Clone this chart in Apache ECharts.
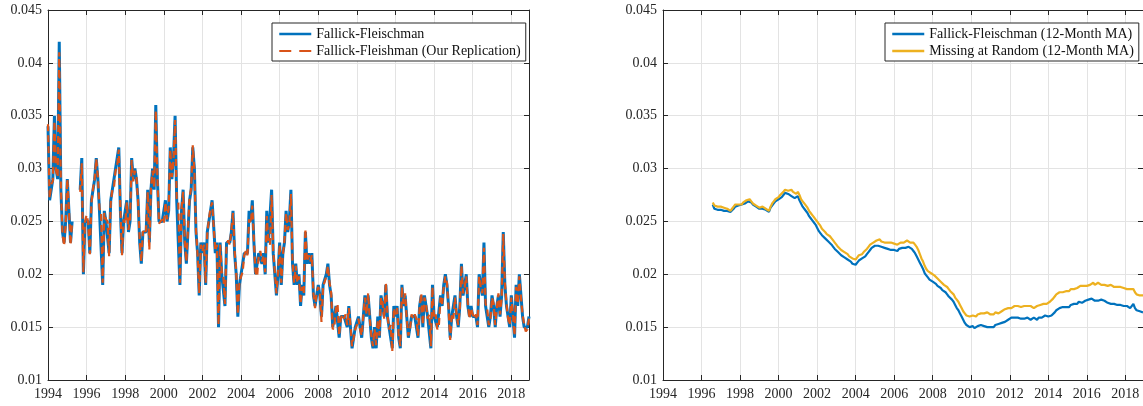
<!DOCTYPE html>
<html>
<head>
<meta charset="utf-8">
<script src="https://cdn.jsdelivr.net/npm/echarts@6/dist/echarts.min.js"></script>
<style>
  html, body { margin: 0; padding: 0; background: #fff; }
  #chart { width: 1143px; height: 406px; }
</style>
</head>
<body>
<div id="chart"></div>
<script>
// Monthly job-finding style rates, January 1994 .. December 2018 (one row per year).
const monthlyStart = 1994;
const ffMonthly = [
  0.034, 0.027, 0.028, 0.029, 0.035, 0.030, 0.029, 0.042, 0.028, 0.024, 0.023, 0.025,
  0.029, 0.026, 0.023, 0.025, null, null, null, null, 0.028, 0.031, 0.020, 0.025,
  0.025, 0.025, 0.022, 0.027, 0.028, 0.029, 0.031, 0.029, 0.026, 0.026, 0.019, 0.026,
  0.025, 0.025, 0.022, 0.027, 0.028, 0.028, 0.030, 0.030, 0.032, 0.026, 0.022, 0.025,
  0.025, 0.027, 0.024, 0.025, 0.031, 0.029, 0.030, 0.029, 0.027, 0.023, 0.021, 0.024,
  0.024, 0.024, 0.028, 0.023, 0.028, 0.030, 0.028, 0.036, 0.029, 0.025, 0.025, 0.025,
  0.025, 0.027, 0.025, 0.026, 0.032, 0.029, 0.031, 0.035, 0.027, 0.027, 0.019, 0.026,
  0.028, 0.023, 0.021, 0.024, 0.027, 0.028, 0.032, 0.030, 0.024, 0.022, 0.018, 0.023,
  0.022, 0.023, 0.019, 0.024, 0.025, 0.026, 0.027, 0.027, 0.022, 0.023, 0.015, 0.023,
  0.020, 0.020, 0.017, 0.023, 0.023, 0.023, 0.024, 0.026, 0.022, 0.020, 0.016, 0.019,
  0.020, 0.020, 0.022, 0.022, 0.022, 0.026, 0.025, 0.027, 0.023, 0.020, 0.020, 0.022,
  0.022, 0.021, 0.022, 0.020, 0.026, 0.023, 0.023, 0.028, 0.022, 0.020, 0.018, 0.020,
  0.023, 0.019, 0.022, 0.023, 0.026, 0.024, 0.025, 0.028, 0.021, 0.019, 0.021, 0.019,
  0.020, 0.017, 0.019, 0.018, 0.024, 0.021, 0.022, 0.021, 0.022, 0.018, 0.017, 0.018,
  0.019, 0.018, 0.016, 0.019, 0.019, 0.020, 0.021, 0.019, 0.018, 0.015, 0.015, 0.017,
  0.017, 0.014, 0.016, 0.016, 0.016, 0.016, 0.015, 0.017, 0.015, 0.013, 0.013, 0.015,
  0.015, 0.016, 0.015, 0.014, 0.014, 0.018, 0.016, 0.018, 0.016, 0.014, 0.013, 0.015,
  0.013, 0.016, 0.014, 0.018, 0.017, 0.016, 0.019, 0.016, 0.015, 0.015, 0.013, 0.017,
  0.016, 0.017, 0.014, 0.013, 0.019, 0.017, 0.018, 0.016, 0.014, 0.015, 0.016, 0.016,
  0.016, 0.016, 0.014, 0.017, 0.018, 0.015, 0.018, 0.017, 0.016, 0.016, 0.013, 0.019,
  0.016, 0.016, 0.015, 0.015, 0.018, 0.017, 0.019, 0.020, 0.019, 0.017, 0.014, 0.016,
  0.016, 0.018, 0.016, 0.015, 0.017, 0.021, 0.018, 0.019, 0.020, 0.017, 0.016, 0.017,
  0.016, 0.016, 0.016, 0.015, 0.020, 0.019, 0.018, 0.023, 0.017, 0.017, 0.015, 0.016,
  0.018, 0.017, 0.015, 0.017, 0.018, 0.016, 0.018, 0.024, 0.019, 0.017, 0.016, 0.015,
  0.018, 0.016, 0.014, 0.019, 0.017, 0.020, 0.018, 0.016, 0.015, 0.015, 0.015, 0.016
];

const ffReplication = [
  0.0342, 0.0272, 0.0285, 0.0288, 0.0345, 0.0298, 0.0292, 0.0410, 0.0283, 0.0238, 0.0227, 0.0248,
  0.0290, 0.0262, 0.0228, 0.0250, null, null, null, null, 0.0278, 0.0305, 0.0202, 0.0250,
  0.0256, 0.0249, 0.0219, 0.0268, 0.0281, 0.0290, 0.0309, 0.0292, 0.0262, 0.0258, 0.0192, 0.0258,
  0.0252, 0.0250, 0.0217, 0.0268, 0.0280, 0.0282, 0.0298, 0.0302, 0.0318, 0.0262, 0.0218, 0.0252,
  0.0248, 0.0268, 0.0242, 0.0252, 0.0308, 0.0288, 0.0298, 0.0292, 0.0268, 0.0232, 0.0212, 0.0241,
  0.0238, 0.0242, 0.0278, 0.0223, 0.0282, 0.0298, 0.0282, 0.0355, 0.0292, 0.0248, 0.0248, 0.0252,
  0.0248, 0.0268, 0.0252, 0.0262, 0.0318, 0.0292, 0.0308, 0.0346, 0.0272, 0.0268, 0.0192, 0.0262,
  0.0278, 0.0232, 0.0212, 0.0242, 0.0272, 0.0282, 0.0322, 0.0298, 0.0242, 0.0218, 0.0182, 0.0228,
  0.0222, 0.0228, 0.0192, 0.0238, 0.0252, 0.0262, 0.0268, 0.0268, 0.0222, 0.0228, 0.0152, 0.0228,
  0.0202, 0.0198, 0.0172, 0.0228, 0.0232, 0.0228, 0.0242, 0.0258, 0.0222, 0.0202, 0.0162, 0.0192,
  0.0198, 0.0202, 0.0218, 0.0222, 0.0218, 0.0252, 0.0248, 0.0265, 0.0232, 0.0202, 0.0198, 0.0218,
  0.0222, 0.0212, 0.0218, 0.0202, 0.0255, 0.0232, 0.0228, 0.0275, 0.0222, 0.0202, 0.0182, 0.0202,
  0.0228, 0.0192, 0.0218, 0.0232, 0.0258, 0.0242, 0.0248, 0.0276, 0.0212, 0.0192, 0.0208, 0.0192,
  0.0198, 0.0172, 0.0188, 0.0182, 0.0243, 0.0212, 0.0218, 0.0212, 0.0218, 0.0182, 0.0168, 0.0183,
  0.0188, 0.0182, 0.0155, 0.0188, 0.0193, 0.0198, 0.0208, 0.0192, 0.0183, 0.0148, 0.0150, 0.0168,
  0.0172, 0.0142, 0.0158, 0.0162, 0.0158, 0.0162, 0.0152, 0.0168, 0.0152, 0.0132, 0.0132, 0.0148,
  0.0152, 0.0158, 0.0148, 0.0142, 0.0142, 0.0178, 0.0162, 0.0182, 0.0158, 0.0142, 0.0132, 0.0148,
  0.0133, 0.0157, 0.0142, 0.0178, 0.0172, 0.0158, 0.0192, 0.0162, 0.0148, 0.0152, 0.0127, 0.0168,
  0.0162, 0.0168, 0.0142, 0.0132, 0.0188, 0.0172, 0.0182, 0.0158, 0.0142, 0.0148, 0.0162, 0.0158,
  0.0162, 0.0158, 0.0142, 0.0168, 0.0182, 0.0152, 0.0178, 0.0172, 0.0158, 0.0162, 0.0132, 0.0188,
  0.0158, 0.0162, 0.0148, 0.0152, 0.0178, 0.0172, 0.0188, 0.0198, 0.0192, 0.0168, 0.0138, 0.0162,
  0.0158, 0.0178, 0.0162, 0.0152, 0.0168, 0.0208, 0.0182, 0.0188, 0.0198, 0.0172, 0.0158, 0.0168,
  0.0162, 0.0158, 0.0162, 0.0152, 0.0198, 0.0188, 0.0182, 0.0225, 0.0172, 0.0168, 0.0152, 0.0158,
  0.0178, 0.0172, 0.0152, 0.0168, 0.0182, 0.0162, 0.0178, 0.0238, 0.0192, 0.0172, 0.0158, 0.0152,
  0.0178, 0.0162, 0.0142, 0.0188, 0.0172, 0.0198, 0.0178, 0.0162, 0.0152, 0.0146, 0.0148, 0.0158
];

// 12-month moving averages, August 1996 .. December 2018.
const maStart = 1996 + 7 / 12;
const ffMA12 = [
  0.0266, 0.0262, 0.0261, 0.0261, 0.0261,
  0.0261, 0.0260, 0.0260, 0.0261, 0.0260, 0.0259, 0.0259, 0.0260, 0.0262, 0.0264, 0.0265, 0.0265,
  0.0266, 0.0266, 0.0267, 0.0267, 0.0268, 0.0269, 0.0270, 0.0268, 0.0266, 0.0265, 0.0264, 0.0263,
  0.0262, 0.0263, 0.0262, 0.0262, 0.0261, 0.0260, 0.0259, 0.0263, 0.0265, 0.0267, 0.0269, 0.0270,
  0.0271, 0.0272, 0.0273, 0.0275, 0.0277, 0.0276, 0.0276, 0.0275, 0.0274, 0.0273, 0.0272, 0.0271,
  0.0274, 0.0270, 0.0267, 0.0264, 0.0262, 0.0261, 0.0258, 0.0255, 0.0253, 0.0251, 0.0249, 0.0247,
  0.0244, 0.0241, 0.0239, 0.0237, 0.0236, 0.0234, 0.0233, 0.0231, 0.0230, 0.0228, 0.0226, 0.0224,
  0.0223, 0.0221, 0.0220, 0.0218, 0.0217, 0.0216, 0.0215, 0.0214, 0.0213, 0.0212, 0.0210, 0.0210,
  0.0209, 0.0211, 0.0213, 0.0214, 0.0215, 0.0216, 0.0217, 0.0219, 0.0221, 0.0223, 0.0225, 0.0226,
  0.0227, 0.0228, 0.0227, 0.0227, 0.0226, 0.0226, 0.0225, 0.0225, 0.0224, 0.0224, 0.0223, 0.0224,
  0.0223, 0.0224, 0.0222, 0.0224, 0.0225, 0.0225, 0.0224, 0.0225, 0.0225, 0.0226, 0.0225, 0.0224,
  0.0222, 0.0220, 0.0217, 0.0214, 0.0211, 0.0208, 0.0205, 0.0201, 0.0199, 0.0197, 0.0195, 0.0194,
  0.0193, 0.0192, 0.0191, 0.0189, 0.0188, 0.0187, 0.0185, 0.0184, 0.0183, 0.0181, 0.0179, 0.0178,
  0.0176, 0.0174, 0.0171, 0.0168, 0.0166, 0.0163, 0.0160, 0.0157, 0.0154, 0.0152, 0.0151, 0.0150,
  0.0150, 0.0151, 0.0149, 0.0150, 0.0151, 0.0152, 0.0152, 0.0151, 0.0151, 0.0150, 0.0150, 0.0151,
  0.0150, 0.0151, 0.0150, 0.0152, 0.0152, 0.0153, 0.0153, 0.0154, 0.0155, 0.0155, 0.0156, 0.0157,
  0.0158, 0.0159, 0.0160, 0.0159, 0.0158, 0.0159, 0.0159, 0.0158, 0.0159, 0.0158, 0.0158, 0.0159,
  0.0158, 0.0157, 0.0158, 0.0159, 0.0158, 0.0157, 0.0159, 0.0160, 0.0159, 0.0160, 0.0161, 0.0160,
  0.0160, 0.0161, 0.0161, 0.0162, 0.0164, 0.0166, 0.0167, 0.0168, 0.0167, 0.0169, 0.0168, 0.0169,
  0.0170, 0.0169, 0.0171, 0.0170, 0.0172, 0.0171, 0.0172, 0.0174, 0.0173, 0.0173, 0.0174, 0.0175,
  0.0174, 0.0176, 0.0175, 0.0177, 0.0176, 0.0175, 0.0176, 0.0175, 0.0174, 0.0176, 0.0176, 0.0175,
  0.0174, 0.0173, 0.0173, 0.0172, 0.0173, 0.0172, 0.0172, 0.0171, 0.0172, 0.0171, 0.0171, 0.0170,
  0.0170, 0.0170, 0.0169, 0.0168, 0.0169, 0.0172, 0.0168, 0.0166, 0.0165, 0.0165, 0.0164, 0.0164
];

const marMA12 = [
  0.0268, 0.0265, 0.0264, 0.0264, 0.0263,
  0.0264, 0.0263, 0.0263, 0.0263, 0.0262, 0.0261, 0.0260, 0.0262, 0.0264, 0.0266, 0.0266, 0.0266,
  0.0267, 0.0266, 0.0268, 0.0269, 0.0270, 0.0271, 0.0271, 0.0269, 0.0267, 0.0266, 0.0265, 0.0264,
  0.0263, 0.0264, 0.0264, 0.0263, 0.0262, 0.0261, 0.0260, 0.0264, 0.0267, 0.0269, 0.0271, 0.0272,
  0.0273, 0.0275, 0.0276, 0.0278, 0.0280, 0.0280, 0.0279, 0.0279, 0.0280, 0.0278, 0.0277, 0.0276,
  0.0278, 0.0275, 0.0271, 0.0269, 0.0267, 0.0266, 0.0263, 0.0260, 0.0258, 0.0256, 0.0254, 0.0252,
  0.0250, 0.0248, 0.0246, 0.0243, 0.0242, 0.0240, 0.0238, 0.0237, 0.0236, 0.0234, 0.0232, 0.0230,
  0.0228, 0.0226, 0.0225, 0.0223, 0.0222, 0.0221, 0.0220, 0.0219, 0.0217, 0.0216, 0.0215, 0.0214,
  0.0214, 0.0216, 0.0218, 0.0218, 0.0219, 0.0221, 0.0222, 0.0224, 0.0226, 0.0228, 0.0229, 0.0230,
  0.0231, 0.0232, 0.0232, 0.0233, 0.0231, 0.0231, 0.0230, 0.0231, 0.0230, 0.0229, 0.0230, 0.0230,
  0.0229, 0.0230, 0.0228, 0.0229, 0.0230, 0.0229, 0.0230, 0.0231, 0.0232, 0.0231, 0.0230, 0.0231,
  0.0230, 0.0228, 0.0226, 0.0223, 0.0219, 0.0215, 0.0212, 0.0208, 0.0205, 0.0203, 0.0202, 0.0201,
  0.0200, 0.0199, 0.0198, 0.0196, 0.0195, 0.0193, 0.0192, 0.0190, 0.0189, 0.0188, 0.0186, 0.0184,
  0.0183, 0.0181, 0.0178, 0.0176, 0.0174, 0.0171, 0.0168, 0.0165, 0.0163, 0.0161, 0.0160, 0.0160,
  0.0159, 0.0161, 0.0160, 0.0160, 0.0162, 0.0163, 0.0163, 0.0164, 0.0163, 0.0162, 0.0164, 0.0163,
  0.0162, 0.0163, 0.0162, 0.0164, 0.0164, 0.0163, 0.0164, 0.0165, 0.0166, 0.0167, 0.0166, 0.0168,
  0.0169, 0.0168, 0.0169, 0.0170, 0.0169, 0.0170, 0.0170, 0.0169, 0.0170, 0.0170, 0.0169, 0.0170,
  0.0169, 0.0170, 0.0169, 0.0168, 0.0169, 0.0170, 0.0169, 0.0171, 0.0170, 0.0172, 0.0172, 0.0172,
  0.0173, 0.0174, 0.0175, 0.0177, 0.0179, 0.0181, 0.0182, 0.0183, 0.0182, 0.0183, 0.0184, 0.0184,
  0.0185, 0.0184, 0.0186, 0.0185, 0.0186, 0.0185, 0.0187, 0.0188, 0.0189, 0.0188, 0.0189, 0.0190,
  0.0189, 0.0189, 0.0190, 0.0191, 0.0192, 0.0190, 0.0191, 0.0192, 0.0191, 0.0190, 0.0191, 0.0190,
  0.0190, 0.0189, 0.0189, 0.0190, 0.0189, 0.0188, 0.0189, 0.0188, 0.0189, 0.0188, 0.0188, 0.0187,
  0.0187, 0.0186, 0.0185, 0.0186, 0.0185, 0.0186, 0.0183, 0.0181, 0.0180, 0.0180, 0.0179, 0.0180
];

const leftNames = ['Fallick-Fleischman', 'Fallick-Fleishman (Our Replication)'];
const rightNames = ['Fallick-Fleischman (12-Month MA)', 'Missing at Random (12-Month MA)'];

// Monthly series -> [decimal year, value] pairs
function toPoints(values, start) {
  return values.map((v, i) => [start + i / 12, v]);
}

const FONT = '"Liberation Serif", "Times New Roman", serif';
const AXIS = '#262626';
const GRID = '#e3e3e3';
const X_MIN = 1994, X_MAX = 2018 + 11 / 12;
const BLUE = '#0072BD', ORANGE = '#D95319', YELLOW = '#EDB120';

function xAxesFor(gridIndex) {
  const common = {
    type: 'value', gridIndex, min: X_MIN, max: X_MAX, interval: 2,
    axisLine: { show: true, onZero: false, lineStyle: { color: AXIS, width: 1 } },
    axisTick: { show: true, inside: true, length: 5, lineStyle: { color: AXIS, width: 1 } }
  };
  return [
    Object.assign({}, common, {
      position: 'bottom',
      axisLabel: {
        color: AXIS, fontFamily: FONT, fontSize: 14, margin: 7,
        showMaxLabel: false,
        formatter: v => (Math.abs(v - Math.round(v)) < 1e-6 ? String(Math.round(v)) : '')
      },
      splitLine: { show: true, lineStyle: { color: GRID, width: 1 } }
    }),
    Object.assign({}, common, {
      position: 'top',
      axisLabel: { show: false },
      splitLine: { show: false }
    })
  ];
}

function yAxesFor(gridIndex) {
  const common = {
    type: 'value', gridIndex, min: 0.01, max: 0.045, interval: 0.005,
    axisLine: { show: true, onZero: false, lineStyle: { color: AXIS, width: 1 } },
    axisTick: { show: true, inside: true, length: 5, lineStyle: { color: AXIS, width: 1 } }
  };
  return [
    Object.assign({}, common, {
      position: 'left',
      axisLabel: {
        color: AXIS, fontFamily: FONT, fontSize: 14, margin: 6,
        formatter: v => String(parseFloat(v.toFixed(3)))
      },
      splitLine: { show: true, lineStyle: { color: GRID, width: 1 } }
    }),
    Object.assign({}, common, {
      position: 'right',
      axisLabel: { show: false },
      splitLine: { show: false }
    })
  ];
}

function legendBox(left, items) {
  return {
    left, top: 23, orient: 'vertical',
    data: items,
    itemWidth: 32, itemHeight: 14, itemGap: 3,
    padding: [4, 5, 3, 6],
    borderColor: AXIS, borderWidth: 1, borderRadius: 0,
    backgroundColor: '#fff',
    selectedMode: false,
    itemStyle: { opacity: 0 },
    lineStyle: { width: 2.5 },
    textStyle: { fontFamily: FONT, fontSize: 14, color: '#111' }
  };
}

const chart = echarts.init(document.getElementById('chart'), null, { renderer: 'canvas' });

chart.setOption({
  animation: false,
  backgroundColor: '#fff',
  grid: [
    { left: 48, top: 10, width: 481, height: 370, containLabel: false },
    { left: 663, top: 10, width: 481, height: 370, containLabel: false }
  ],
  xAxis: [...xAxesFor(0), ...xAxesFor(1)],
  yAxis: [...yAxesFor(0), ...yAxesFor(1)],
  legend: [
    legendBox(272, [
      { name: leftNames[0] },
      { name: leftNames[1], lineStyle: { type: [12, 8], width: 2.2 } }
    ]),
    legendBox(885, [{ name: rightNames[0] }, { name: rightNames[1] }])
  ],
  series: [
    {
      name: leftNames[0], type: 'line', xAxisIndex: 0, yAxisIndex: 0,
      data: toPoints(ffMonthly, monthlyStart), symbol: 'none', connectNulls: false,
      itemStyle: { color: BLUE }, lineStyle: { color: BLUE, width: 3 }, z: 2
    },
    {
      name: leftNames[1], type: 'line', xAxisIndex: 0, yAxisIndex: 0,
      data: toPoints(ffReplication, monthlyStart), symbol: 'none', connectNulls: false,
      itemStyle: { color: ORANGE }, lineStyle: { color: ORANGE, width: 2.2, type: [7, 4] }, z: 3
    },
    {
      name: rightNames[0], type: 'line', xAxisIndex: 2, yAxisIndex: 2,
      data: toPoints(ffMA12, maStart), symbol: 'none',
      itemStyle: { color: BLUE }, lineStyle: { color: BLUE, width: 2.2 }, z: 2
    },
    {
      name: rightNames[1], type: 'line', xAxisIndex: 2, yAxisIndex: 2,
      data: toPoints(marMA12, maStart), symbol: 'none',
      itemStyle: { color: YELLOW }, lineStyle: { color: YELLOW, width: 2.2 }, z: 2
    }
  ]
});
</script>
</body>
</html>
